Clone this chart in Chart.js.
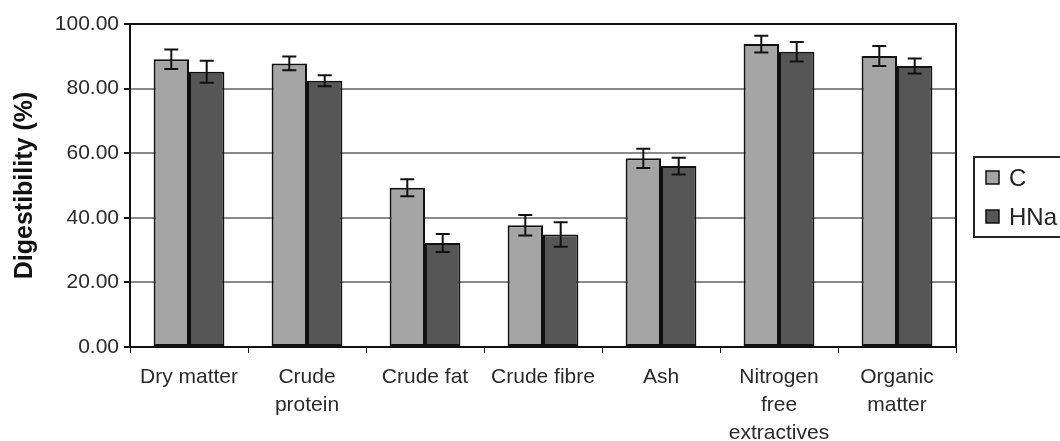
<!DOCTYPE html>
<html>
<head>
<meta charset="utf-8">
<script src="https://cdn.jsdelivr.net/npm/chart.js@4.4.1/dist/chart.umd.min.js"></script>
<style>
  html, body { margin: 0; padding: 0; background: #fff; overflow: hidden; }
  #wrap { width: 1060px; height: 441px; position: relative; }
</style>
</head>
<body>
<div id="wrap"><canvas id="chart"></canvas></div>
<script>
// data
var categories = [
  'Dry matter',
  ['Crude', 'protein'],
  'Crude fat',
  'Crude fibre',
  'Ash',
  ['Nitrogen', 'free', 'extractives'],
  ['Organic', 'matter']
];
var seriesNames = ['C', 'HNa'];
var valuesC   = [89.1, 87.8, 49.3, 37.7, 58.4, 93.8, 90.1];
var valuesHNa = [85.2, 82.4, 32.2, 34.8, 56.0, 91.4, 87.0];
var errC      = [3.0, 2.1, 2.6, 3.2, 3.0, 2.6, 3.1];
var errHNa    = [3.4, 1.7, 2.8, 3.8, 2.6, 3.0, 2.3];
var yTicks    = [0, 20, 40, 60, 80, 100];

var colorC = '#a5a5a5';
var colorHNa = '#565656';
var fontFam = '"Liberation Sans", Arial, sans-serif';

// error bars drawn from the bar elements + y scale
var errorBars = {
  id: 'errorBars',
  afterDatasetsDraw(chart) {
    const ctx = chart.ctx;
    const y = chart.scales.y;
    ctx.save();
    ctx.strokeStyle = '#111';
    ctx.lineWidth = 2;
    chart.data.datasets.forEach((ds, di) => {
      const meta = chart.getDatasetMeta(di);
      meta.data.forEach((bar, i) => {
        const v = ds.data[i], e = ds.errors[i];
        const x = bar.x;
        const yt = y.getPixelForValue(v + e);
        const yb = y.getPixelForValue(v - e);
        ctx.beginPath();
        ctx.moveTo(x, yt); ctx.lineTo(x, yb);
        ctx.moveTo(x - 7, yt); ctx.lineTo(x + 7, yt);
        ctx.moveTo(x - 7, yb); ctx.lineTo(x + 7, yb);
        ctx.stroke();
      });
    });
    ctx.restore();
  }
};

// top/right frame of the plot and the boxed legend
var frameAndLegend = {
  id: 'frameAndLegend',
  afterDraw(chart) {
    const ctx = chart.ctx;
    const a = chart.chartArea;
    ctx.save();
    ctx.strokeStyle = '#111';
    ctx.lineWidth = 2;
    ctx.beginPath();
    ctx.moveTo(a.left, a.top);
    ctx.lineTo(a.right, a.top);
    ctx.lineTo(a.right, a.bottom);
    ctx.stroke();

    // legend box
    ctx.lineWidth = 2;
    ctx.strokeStyle = '#222';
    ctx.strokeRect(974, 157, 120, 80);
    ctx.font = '24px ' + fontFam;
    ctx.textBaseline = 'middle';
    chart.data.datasets.forEach((ds, i) => {
      const cy = 178 + i * 39;
      ctx.fillStyle = ds.backgroundColor;
      ctx.fillRect(986, cy - 7, 13, 13);
      ctx.lineWidth = 1.5;
      ctx.strokeStyle = '#111';
      ctx.strokeRect(986, cy - 7, 13, 13);
      ctx.fillStyle = '#222';
      ctx.fillText(ds.label, 1009, cy + 1);
    });
    ctx.restore();
  }
};

new Chart(document.getElementById('chart'), {
  type: 'bar',
  data: {
    labels: categories,
    datasets: [
      { label: seriesNames[0], data: valuesC, errors: errC, backgroundColor: colorC,
        borderColor: '#111', borderWidth: 2, borderSkipped: false },
      { label: seriesNames[1], data: valuesHNa, errors: errHNa, backgroundColor: colorHNa,
        borderColor: '#111', borderWidth: 2, borderSkipped: false }
    ]
  },
  options: {
    responsive: true,
    maintainAspectRatio: false,
    animation: false,
    devicePixelRatio: 1,
    layout: { padding: { left: 0, top: 24, right: 104, bottom: 0 } },
    datasets: { bar: { categoryPercentage: 0.6, barPercentage: 1.0 } },
    plugins: {
      legend: { display: false },
      tooltip: { enabled: false }
    },
    scales: {
      x: {
        grid: { drawOnChartArea: false, drawTicks: true, tickLength: 6, tickColor: '#111', offset: true },
        border: { color: '#111', width: 2 },
        ticks: { color: '#2a2a2a', padding: 10, maxRotation: 0, autoSkip: false,
                 font: { family: fontFam, size: 21, lineHeight: 1.33 } },
        afterFit(scale) { scale.height = 94; }
      },
      y: {
        min: 0, max: 100,
        afterBuildTicks(scale) { scale.ticks = yTicks.map(v => ({ value: v })); },
        grid: { color: '#8a8a8a', lineWidth: 2, tickLength: 6, tickColor: '#111' },
        border: { color: '#111', width: 2 },
        ticks: { color: '#2a2a2a', padding: 5, font: { family: fontFam, size: 21 },
                 callback: v => Number(v).toFixed(2) },
        title: { display: true, text: 'Digestibility (%)', color: '#111',
                 font: { family: fontFam, size: 25, weight: 'bold' }, padding: { top: 10, bottom: 0 } },
        afterFit(scale) { scale.width = 130; }
      }
    }
  },
  plugins: [errorBars, frameAndLegend]
});
</script>
</body>
</html>
